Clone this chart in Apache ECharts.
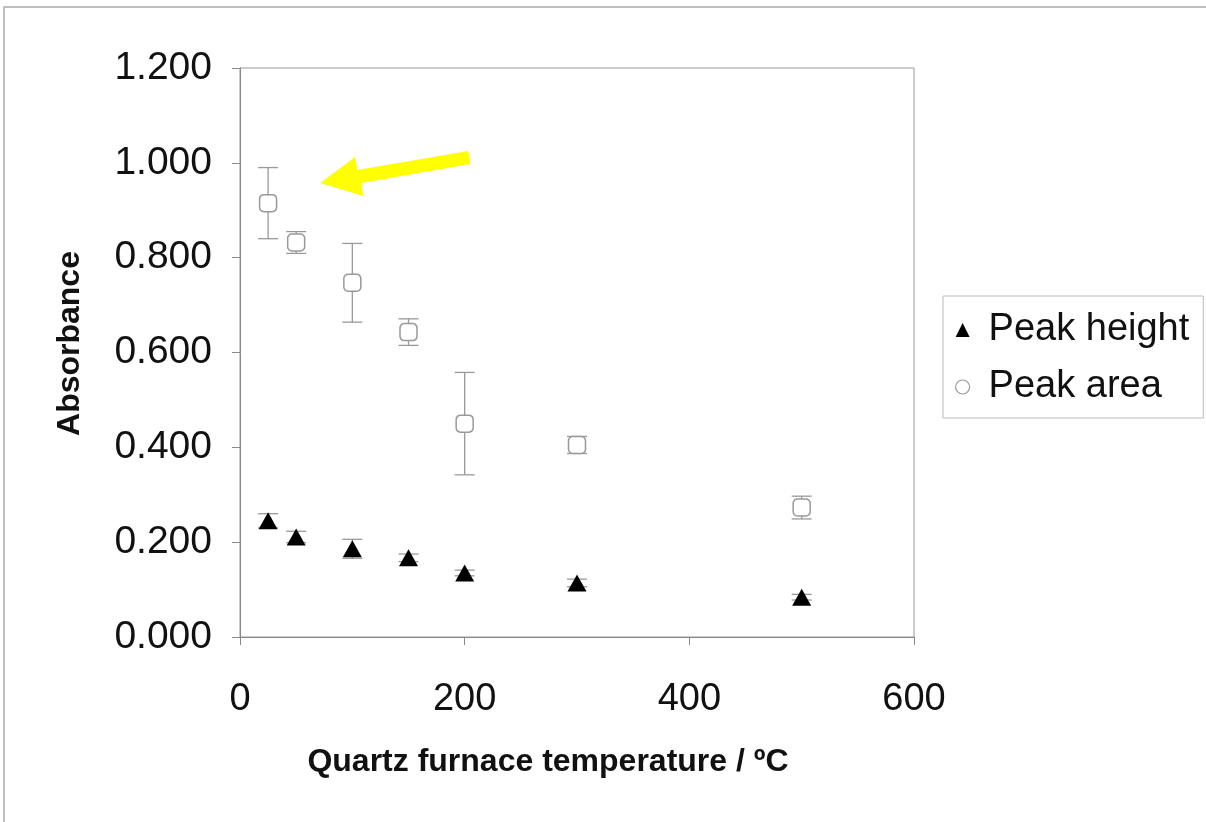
<!DOCTYPE html>
<html><head><meta charset="utf-8">
<script src="https://cdn.jsdelivr.net/npm/echarts@6/dist/echarts.min.js"></script>
<style>html,body{margin:0;padding:0;background:#fff}#c{width:1206px;height:822px}</style>
</head><body><div id="c"></div>
<script>
var temps = [25, 50, 100, 150, 200, 300, 500];
var peakHeight = [0.245, 0.211, 0.186, 0.167, 0.135, 0.114, 0.084];
var peakHeightErr = [0.015, 0.012, 0.020, 0.008, 0.006, 0.008, 0.006];
var peakArea = [0.915, 0.832, 0.747, 0.643, 0.450, 0.405, 0.273];
var peakAreaErr = [0.075, 0.023, 0.083, 0.028, 0.108, 0.018, 0.024];
var yTicks = [0, 1.2, 0.2];
var xTicks = [0, 600, 200];
var seriesNames = ['Peak height', 'Peak area'];
var xName = 'Quartz furnace temperature / ºC';
var yName = 'Absorbance';

function pts(xs, ys) { return xs.map(function (x, i) { return [x, ys[i]]; }); }
function errData(xs, ys, es) { return xs.map(function (x, i) { return [x, ys[i] - es[i], ys[i] + es[i]]; }); }
function errRender(color, cap) {
  return function (params, api) {
    var x = api.value(0);
    var lo = api.coord([x, api.value(1)]);
    var hi = api.coord([x, api.value(2)]);
    var st = { stroke: color, lineWidth: 1.3 };
    return { type: 'group', children: [
      { type: 'line', shape: { x1: lo[0], y1: lo[1], x2: hi[0], y2: hi[1] }, style: st },
      { type: 'line', shape: { x1: hi[0] - cap, y1: hi[1], x2: hi[0] + cap, y2: hi[1] }, style: st },
      { type: 'line', shape: { x1: lo[0] - cap, y1: lo[1], x2: lo[0] + cap, y2: lo[1] }, style: st }
    ]};
  };
}
var FONT = '"Liberation Sans", Arial, sans-serif';
var chart = echarts.init(document.getElementById('c'), null, { renderer: 'canvas' });
chart.setOption({
  animation: false,
  backgroundColor: '#ffffff',
  grid: { left: 240, right: 292, top: 68, bottom: 185, show: true, borderColor: '#999', borderWidth: 1, backgroundColor: 'transparent' },
  xAxis: {
    type: 'value', min: xTicks[0], max: xTicks[1], interval: xTicks[2],
    name: xName, nameLocation: 'middle', nameGap: 109,
    nameTextStyle: { fontFamily: FONT, fontSize: 32, fontWeight: 'bold', color: '#111', padding: [0, 58, 0, 0] },
    axisLine: { show: true, lineStyle: { color: '#888', width: 1 } },
    axisTick: { show: true, length: 8, lineStyle: { color: '#888' } },
    axisLabel: { fontFamily: FONT, fontSize: 38, color: '#111', margin: 44 },
    splitLine: { show: false }
  },
  yAxis: {
    type: 'value', min: yTicks[0], max: yTicks[1], interval: yTicks[2],
    name: yName, nameLocation: 'middle', nameGap: 154,
    nameTextStyle: { fontFamily: FONT, fontSize: 32, fontWeight: 'bold', color: '#111', padding: [0, 0, 0, 18] },
    axisLine: { show: true, lineStyle: { color: '#888', width: 1 } },
    axisTick: { show: true, length: 8, lineStyle: { color: '#888' } },
    axisLabel: { fontFamily: FONT, fontSize: 39, color: '#111', margin: 28, formatter: function (v) { return v.toFixed(3); } },
    splitLine: { show: false }
  },
  legend: {
    orient: 'vertical', left: 943, top: 296,
    padding: [15, 14, 12, 12], itemGap: 19,
    borderColor: '#bbb', borderWidth: 1, backgroundColor: '#fff',
    itemWidth: 14, itemHeight: 14,
    textStyle: { fontFamily: FONT, fontSize: 38, color: '#111', padding: [0, 0, 0, 14] },
    data: [
      { name: seriesNames[0], icon: 'triangle', itemStyle: { color: '#000' } },
      { name: seriesNames[1], icon: 'circle', itemStyle: { color: '#fff', borderColor: '#999', borderWidth: 1.2 } }
    ]
  },
  series: [
    { type: 'custom', name: 'errA', data: errData(temps, peakArea, peakAreaErr), renderItem: errRender('#999', 10), z: 1, silent: true },
    { type: 'custom', name: 'errH', data: errData(temps, peakHeight, peakHeightErr), renderItem: errRender('#999', 10), z: 1, silent: true },
    { type: 'scatter', name: seriesNames[1], data: pts(temps, peakArea), symbol: 'roundRect', symbolSize: 17,
      itemStyle: { color: '#fff', borderColor: '#999', borderWidth: 1.5, opacity: 1 }, z: 3 },
    { type: 'scatter', name: seriesNames[0], data: pts(temps, peakHeight), symbol: 'triangle', symbolSize: [19, 17],
      itemStyle: { color: '#000', opacity: 1 }, z: 4 }
  ],
  graphic: [
    { type: 'rect', shape: { x: 4, y: 7, width: 1260, height: 900 }, style: { fill: 'none', stroke: '#aaa', lineWidth: 1.5 }, silent: true, z: 0 },
    { type: 'polygon', shape: { points: [[320, 183], [355, 157], [357, 170], [468, 151], [470, 164], [361, 183], [363, 196]] },
      style: { fill: '#ffff00', stroke: 'none' }, z: 100 }
  ]
});
</script></body></html>
